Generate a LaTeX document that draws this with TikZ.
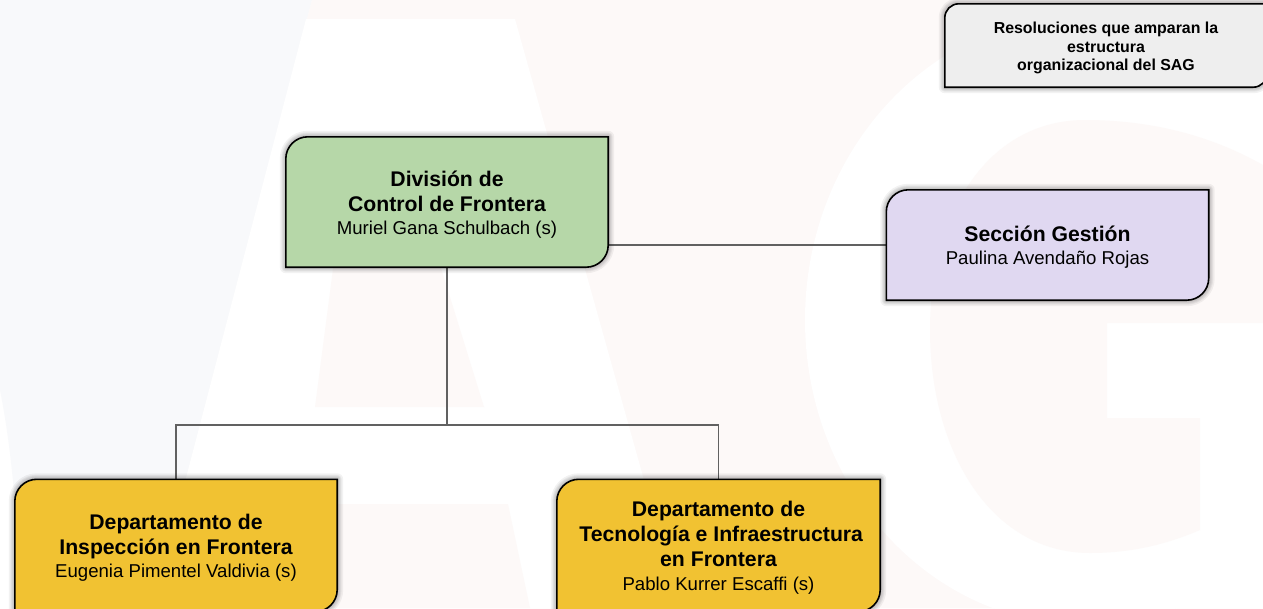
\documentclass[tikz,border=0pt]{standalone}
\usepackage{fontspec}
\setmainfont{Liberation Sans}
\usetikzlibrary{calc,backgrounds}
\definecolor{wmpink}{HTML}{FDF9F8}
\definecolor{wmblue}{HTML}{F8F9FB}
\definecolor{lnk}{HTML}{616161}
\definecolor{cgreen}{HTML}{B6D7A8}
\definecolor{cpurple}{HTML}{E0D8F1}
\definecolor{cyellow}{HTML}{F1C232}
\definecolor{cgrey}{HTML}{EEEEEE}
\tikzset{
  orgtext/.style={inner sep=0pt,align=center,text=black,font=\fontsize{21.2}{25}\selectfont},
  smalltext/.style={inner sep=0pt,align=center,text=black,font=\fontsize{15.9}{18.2}\selectfont\bfseries},
  link/.style={draw=lnk,line width=1.4pt},
  orgline/.style={draw=black,line width=1.6pt},
}
\newcommand{\hd}[1]{{\bfseries #1}}
\newcommand{\nm}[1]{{\fontsize{18.6}{23}\selectfont #1}}
\newcommand{\orgshape}[2]{%
  (#1.north east) -- ([yshift=#2]#1.south east) arc[start angle=0,end angle=-90,radius=#2]
  -- (#1.south west) -- ([yshift=-#2]#1.north west) arc[start angle=180,end angle=90,radius=#2] -- cycle}
\newcommand{\orgbox}[3]{%
  \begin{scope}[xshift=-1.5pt,yshift=-0.5pt]
    \foreach \w in {12,9,7,5,3}{\path[draw=black,draw opacity=.05,line width=\w pt,line join=round] \orgshape{#1}{#3};}
  \end{scope}
  \path[fill=#2,orgline] \orgshape{#1}{#3};}
\begin{document}
\begin{tikzpicture}[x=1pt,y=1pt]
\useasboundingbox (0,0) rectangle (1263,-608);
% nodes
\node[orgtext,minimum width=322pt,minimum height=130pt] (div) at (447,-202) {\rule{0pt}{20.5pt}\hd{División de}\\\hd{Control de Frontera}\\[-1.5pt]\nm{Muriel Gana Schulbach (s)}};
\node[orgtext,minimum width=322pt,minimum height=110pt] (ges) at (1047.5,-245) {\rule{0pt}{19.5pt}\hd{Sección Gestión}\\[-1.5pt]\nm{Paulina Avendaño Rojas}};
\node[orgtext,minimum width=322pt,minimum height=132pt] (insp) at (176,-545.5) {\rule{0pt}{19.5pt}\hd{Departamento de}\\\hd{Inspección en Frontera}\\[-1.5pt]\nm{Eugenia Pimentel Valdivia (s)}};
\node[orgtext,minimum width=323pt,minimum height=132pt] (tec) at (718.5,-545.5) {\rule{0pt}{19.5pt}\hd{Departamento de}\\\hspace*{5.5pt}\hd{Tecnología e Infraestructura}\\\hd{en Frontera}\\[-1.5pt]\nm{Pablo Kurrer Escaffi (s)}};
\node[smalltext,minimum width=322pt,minimum height=83pt] (res) at (1106,-45.5) {\rule{0pt}{16.5pt}Resoluciones que amparan la\\estructura\\organizacional del SAG};
\coordinate (bus) at (447,-425);
\begin{pgfonlayer}{background}
\clip (0,0) rectangle (1263,-608);
\fill[white] (0,0) rectangle (1263,-608);
% watermark: blue S
\fill[wmblue] (0,0) -- (312,0) -- (152,-608) -- (20,-608) .. controls (18,-500) and (8,-430) .. (0,-390) -- cycle;
% watermark: pink field with white A and G letters
\fill[wmpink] (312,0) -- (1263,0) -- (1263,-608) -- (152,-608) -- cycle;
\fill[white] (306,-19) -- (515,-19) -- (644,-480) .. controls (655,-520) and (670,-570) .. (680,-608) -- (152,-608) -- cycle;
\fill[wmpink] (315,-407) -- (484,-407) -- (420,-200) -- (342,-200) -- cycle;
\fill[wmpink] (250,-504) -- (508,-504) -- (530,-608) -- (230,-608) -- cycle;
\fill[white] (1085,-320) ellipse[x radius=280,y radius=305];
\fill[white] (1100,-320) rectangle (1263,-608);
\fill[wmpink] (1263,-165) -- (1263,-323) -- (1107,-323) -- (1107,-418) -- (1200,-418) -- (1200,-530)
   .. controls (1165,-545) and (1130,-553) .. (1090,-553)
   .. controls (990,-553) and (930,-450) .. (930,-330)
   .. controls (930,-210) and (990,-120) .. (1085,-120)
   .. controls (1150,-120) and (1210,-135) .. (1263,-165) -- cycle;
% connectors
\draw[link] (div.south) -- (bus);
\draw[link] (insp.north) |- (bus);
\draw[link] (tec.north) |- (bus);
\draw[link] (ges.west) -- (ges.west -| div.east);
% boxes
\orgbox{div}{cgreen}{22pt}
\orgbox{ges}{cpurple}{22pt}
\orgbox{insp}{cyellow}{22pt}
\orgbox{tec}{cyellow}{22pt}
\orgbox{res}{cgrey}{14pt}
\end{pgfonlayer}
\end{tikzpicture}
\end{document}
